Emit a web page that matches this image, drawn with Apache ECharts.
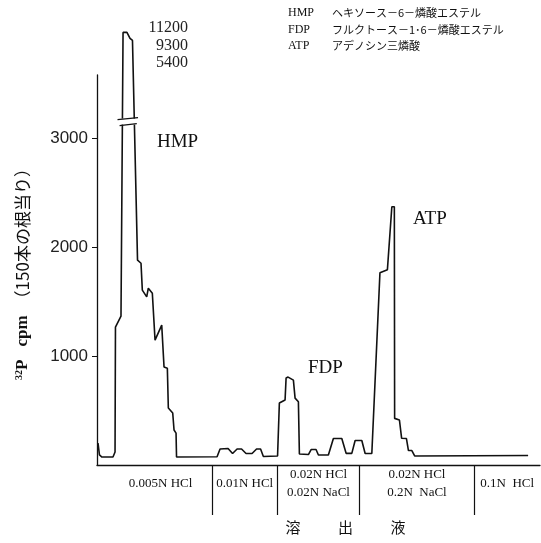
<!DOCTYPE html>
<html>
<head>
<meta charset="utf-8">
<script src="https://cdn.jsdelivr.net/npm/echarts@6/dist/echarts.min.js"></script>
<style>
  html, body { margin: 0; background: #fff; }
  #root { width: 541px; height: 543px; }
</style>
</head>
<body>
<div id="root"></div>
<script>
// 画分番号 (横軸) と 32P cpm (縦軸)
const tube = [0.25, 0.6, 1.2, 3.9, 4.4, 4.5, 5.85, 6.35, 7.3, 8.05, 8.65, 9.88, 10.73, 11.05, 12.12, 12.51, 13.49, 14.15, 15.78, 16.34, 17.15, 17.39, 18.46, 18.78, 19.27, 19.39,
  29.27, 30.0, 31.95, 33.05, 34.15, 35.24, 36.34, 37.8, 38.9, 39.88, 40.56, 44.02,
  44.46, 45.85, 46.1, 46.59, 47.88, 48.29, 49.1, 49.34, 51.54, 52.2, 53.4, 53.98, 56.41, 57.63, 59.68, 60.73, 62.12, 62.93, 64.56, 65.37, 67.0,
  68.98, 70.8, 71.88, 72.49, 72.56, 73.73, 74.27, 75.44, 75.93, 76.76, 77.44, 105.1]
const cpm = [200, 92, 73, 73, 119, 1265, 1366, 3971, 3971, 3916, 3897, 1880, 1852, 1605, 1543, 1623, 1577, 1146, 1284, 899, 889, 523, 477, 321, 293, 73,
  76, 147, 151, 105, 147, 147, 105, 105, 147, 147, 78, 83,
  569, 596, 798, 807, 779, 614, 580, 101, 96, 142, 142, 92, 92, 243, 243, 107, 107, 225, 225, 105, 105,
  1765, 1793, 2370, 2370, 428, 413, 245, 243, 133, 133, 83, 87]

const yTicks = [1000, 2000, 3000]
// 溶出液の切り替え位置と名前
const bounds = [28, 44, 64, 92]
const regionPos = [15.5, 36, 54, 78, 100]
const regionNames = ['0.005N HCl', '0.01N HCl', '0.02N HCl\n0.02N NaCl', '0.02N HCl\n0.2N  NaCl', '0.1N  HCl']
// HMP ピーク頂上の実測値
const peakTop = ['11200', '9300', '5400']
const peakNames = ['HMP', 'FDP', 'ATP']
const peakNotes = ['ヘキソース－6－燐酸エステル', 'フルクトース－1･6－燐酸エステル', 'アデノシン三燐酸']
const breakAt = [3125, 3180]

const serif = '"Liberation Serif", "DejaVu Serif", serif'
const jp = '"Noto Sans CJK JP", sans-serif'

let myChart = echarts.init(document.querySelector('#root'))

let texts = []
// 凡例 (右上)
peakNames.forEach((n, i) => {
  texts.push({ type: 'text', x: 288, y: 13 + i * 16.5, style: { text: n, font: '12px ' + serif, fill: '#111', textVerticalAlign: 'middle' } })
  texts.push({ type: 'text', x: 332, y: 13 + i * 16.5, style: { text: peakNotes[i], font: '11px ' + jp, fill: '#111', textVerticalAlign: 'middle' } })
})
// ピーク頂上の値
peakTop.forEach((t, i) => {
  texts.push({ type: 'text', x: 188, y: 28 + i * 17.5, style: { text: t, font: '16px ' + serif, fill: '#222', textAlign: 'right', textVerticalAlign: 'middle' } })
})
// ピーク名
const namePos = [[157, 142], [308, 368], [413, 219]]
peakNames.forEach((n, i) => {
  texts.push({ type: 'text', x: namePos[i][0], y: namePos[i][1], style: { text: n, font: '19px ' + serif, fill: '#111', textVerticalAlign: 'middle' } })
})

let option = {
  animation: false,
  grid: { left: 97, right: 1, top: 75, bottom: 78 },
  xAxis: {
    type: 'value', min: 0, max: 108,
    splitLine: { show: false },
    axisLine: { lineStyle: { color: '#111', width: 1.3 } },
    axisTick: { customValues: bounds, length: 50, lineStyle: { color: '#111', width: 1.2 } },
    axisLabel: {
      customValues: regionPos, margin: 19, verticalAlign: 'middle',
      formatter: v => regionNames[regionPos.indexOf(v)],
      fontFamily: serif, fontSize: 13, lineHeight: 18, color: '#111'
    },
    name: '溶\u3000\u3000\u2002出\u3000\u3000\u2002液',
    nameLocation: 'middle', nameGap: 55,
    nameTextStyle: { fontFamily: jp, fontSize: 15, color: '#111', padding: [0, 0, 0, 54] }
  },
  yAxis: {
    type: 'value', min: 0, max: 3580,
    splitLine: { show: false },
    axisLine: { show: true, lineStyle: { color: '#111', width: 1.3 } },
    axisTick: { show: true, customValues: yTicks, length: 5, lineStyle: { color: '#111' } },
    axisLabel: {
      customValues: yTicks, margin: 9, formatter: v => String(v),
      fontFamily: '"Liberation Sans", Arial, sans-serif', fontSize: 17, color: '#222'
    },
    name: '{sup|32}{b|P}{sp|}{b|cpm}{sp2|}{j|（150本の根当り）}',
    nameLocation: 'middle', nameRotate: 90, nameGap: 65,
    nameTextStyle: {
      rich: {
        sup: { fontFamily: serif, fontSize: 10, fontWeight: 'bold', color: '#111', padding: [0, 0, 8, 0] },
        b: { fontFamily: serif, fontSize: 17, fontWeight: 'bold', color: '#111' },
        sp: { width: 13 },
        sp2: { width: 8 },
        j: { fontFamily: jp, fontSize: 17, color: '#111' }
      }
    }
  },
  series: [{
    type: 'line',
    data: tube.map((t, i) => [t, cpm[i]]),
    symbol: 'none',
    clip: false,
    lineStyle: { color: '#111', width: 1.6 },
    z: 2
  }],
  graphic: texts
}

myChart.setOption(option)

// 縦軸の省略記号 (HMP ピーク)
let p1 = myChart.convertToPixel({ gridIndex: 0 }, [5.0, breakAt[1]])
let p2 = myChart.convertToPixel({ gridIndex: 0 }, [10.0, breakAt[1]])
let q1 = myChart.convertToPixel({ gridIndex: 0 }, [5.5, breakAt[0]])
let q2 = myChart.convertToPixel({ gridIndex: 0 }, [9.7, breakAt[0]])
texts.push({ type: 'rect', z: 100, shape: { x: p1[0] + 2, y: p1[1], width: p2[0] - p1[0] - 4, height: q1[1] - p1[1] }, style: { fill: '#fff' } })
texts.push({ type: 'line', z: 101, shape: { x1: p1[0], y1: p1[1] + 1, x2: p2[0], y2: p2[1] - 1 }, style: { stroke: '#111', lineWidth: 1.2 } })
texts.push({ type: 'line', z: 101, shape: { x1: q1[0], y1: q1[1] + 1, x2: q2[0], y2: q2[1] - 1 }, style: { stroke: '#111', lineWidth: 1.2 } })
myChart.setOption({ graphic: texts })
</script>
</body>
</html>
